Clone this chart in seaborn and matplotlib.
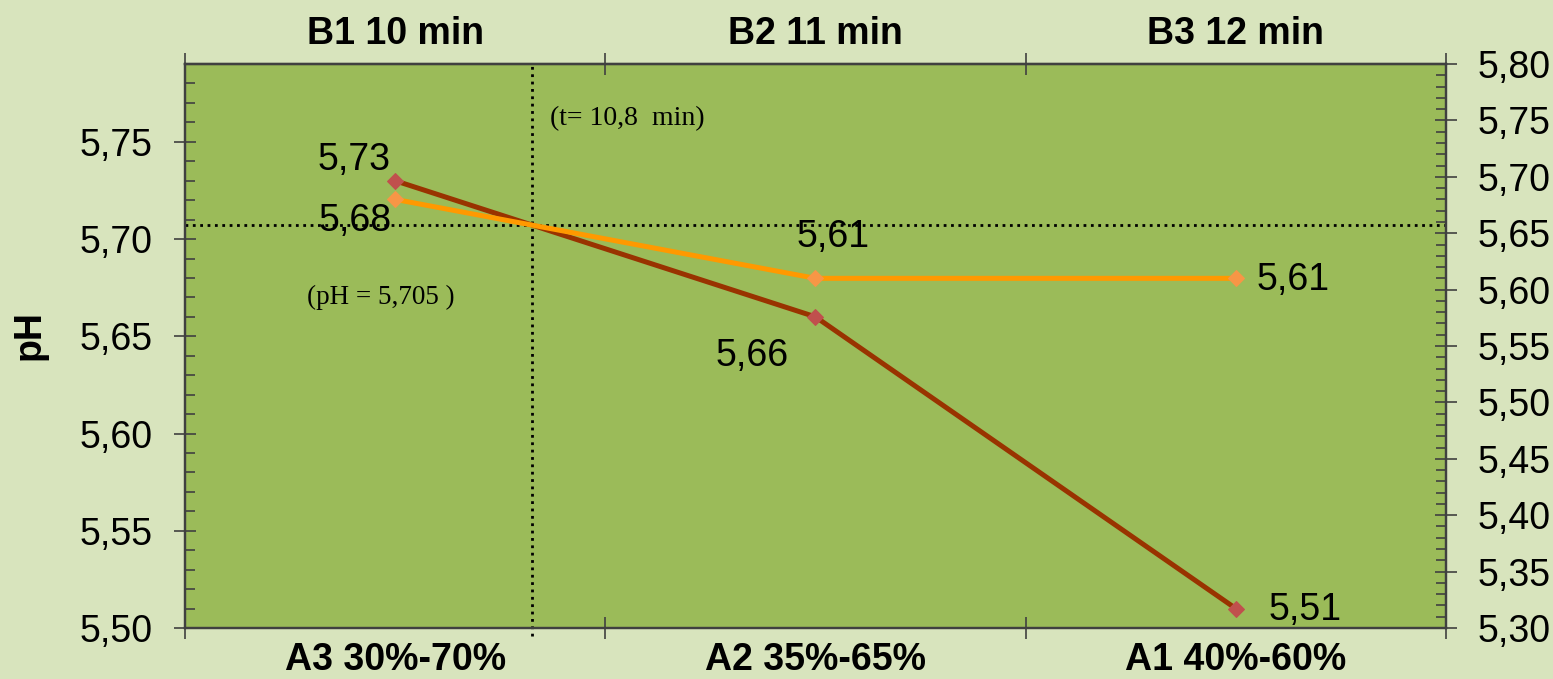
import matplotlib
matplotlib.use("Agg")
import matplotlib.pyplot as plt
import matplotlib.ticker as mticker
import pandas as pd
import seaborn as sns

# categories and values
mix_labels = ["A3 30%-70%", "A2 35%-65%", "A1 40%-60%"]
time_labels = ["B1 10 min", "B2 11 min", "B3 12 min"]
ph_mix = [5.73, 5.66, 5.51]     # left axis
ph_time = [5.68, 5.61, 5.61]    # right axis

# crossing point of the two lines (t = 10,8 min, pH = 5,705)
t_cross = 0.326
ph_cross = 5.707

left_ticks = [5.50, 5.55, 5.60, 5.65, 5.70, 5.75]
right_ticks = [5.30, 5.35, 5.40, 5.45, 5.50, 5.55, 5.60, 5.65, 5.70, 5.75, 5.80]

df = pd.DataFrame({
    "mix": mix_labels,
    "time": time_labels,
    "ph_mix": ph_mix,
    "ph_time": ph_time,
})

plt.rcParams["font.family"] = ["Liberation Sans", "DejaVu Sans"]

BG = "#d8e4bd"
PLOT_BG = "#9bbb59"
SPINE = "#404040"

fig, ax = plt.subplots(figsize=(15.53, 6.79), dpi=100)
fig.patch.set_facecolor(BG)
ax.set_facecolor(PLOT_BG)
fig.subplots_adjust(left=0.1191, right=0.9311, bottom=0.0751, top=0.9057)

ax2 = ax.twinx()

sns.lineplot(data=df, x="mix", y="ph_mix", ax=ax, sort=False,
             color="#993300", lw=3.6, marker="D", markersize=8,
             markerfacecolor="#c0504d", markeredgecolor="#c0504d")
sns.lineplot(data=df, x="mix", y="ph_time", ax=ax2, sort=False,
             color="#ff9900", lw=3.6, marker="D", markersize=8,
             markerfacecolor="#f79646", markeredgecolor="#f79646")

ax.set_xlim(-0.5, 2.5)
ax.set_ylim(5.50, 5.79)
ax2.set_ylim(5.30, 5.80)

comma = mticker.FuncFormatter(lambda v, p: f"{v:.2f}".replace(".", ","))

# bottom categories
ax.set_xticks(range(len(mix_labels)))
ax.set_xticklabels(mix_labels, fontsize=27, fontweight="bold")
ax.set_xticks([-0.5, 0.5, 1.5, 2.5], minor=True)
ax.tick_params(axis="x", which="major", length=0, pad=10)
ax.tick_params(axis="x", which="minor", direction="inout", length=16,
               width=1.2, color=SPINE)

# left y axis
ax.set_yticks(left_ticks)
ax.yaxis.set_major_formatter(comma)
ax.yaxis.set_minor_locator(mticker.MultipleLocator(0.01))
ax.tick_params(axis="y", which="major", direction="inout", length=16,
               width=1.2, color=SPINE, labelsize=27, pad=15)
ax.tick_params(axis="y", which="minor", direction="in", length=7,
               width=1.2, color=SPINE)
ax.set_xlabel("")
ax.set_ylabel("pH", fontsize=27, fontweight="bold")
ax.yaxis.set_label_coords(-0.109, 0.52)

# right y axis
ax2.set_yticks(right_ticks)
ax2.yaxis.set_major_formatter(comma)
ax2.yaxis.set_minor_locator(mticker.MultipleLocator(0.01))
ax2.tick_params(axis="y", which="major", direction="inout", length=16,
                width=1.2, color=SPINE, labelsize=27, pad=15)
ax2.tick_params(axis="y", which="minor", direction="in", length=7,
                width=1.2, color=SPINE)
ax2.set_ylabel("")

# top categories
top = ax.secondary_xaxis("top")
top.set_xticks(range(len(time_labels)))
top.set_xticklabels(time_labels, fontsize=27, fontweight="bold")
top.set_xticks([-0.5, 0.5, 1.5, 2.5], minor=True)
top.tick_params(axis="x", which="major", length=0, pad=9)
top.tick_params(axis="x", which="minor", direction="inout", length=16,
                width=1.2, color=SPINE)

for a in (ax, ax2, top):
    for sp in a.spines.values():
        sp.set_color(SPINE)
        sp.set_linewidth(1.6)

# dotted reference lines at the crossing
ax.axhline(ph_cross, color="black", ls=":", lw=2, zorder=1)
ax.axvline(t_cross, ymin=-0.015, ymax=1, color="black", ls=":", lw=2,
           clip_on=False, zorder=1)

ax.text(0.2894, 0.904, "(t= 10,8  min)", transform=ax.transAxes,
        family="Liberation Serif", fontsize=20, va="center", ha="left")
ax.text(0.0967, 0.587, "(pH = 5,705 )", transform=ax.transAxes,
        family="Liberation Serif", fontsize=19.5, va="center", ha="left")

# data labels
mix_offsets = [(-41, 21), (-63, -39), (69, -1)]
time_offsets = [(-40, -22), (18, 41), (57, -2)]
for i, v in enumerate(ph_mix):
    ax.annotate(f"{v:.2f}".replace(".", ","), xy=(i, v),
                xytext=mix_offsets[i], textcoords="offset pixels",
                ha="center", va="center", fontsize=27)
for i, v in enumerate(ph_time):
    ax2.annotate(f"{v:.2f}".replace(".", ","), xy=(i, v),
                 xytext=time_offsets[i], textcoords="offset pixels",
                 ha="center", va="center", fontsize=27)

fig.savefig("out.png", dpi=100, facecolor=BG)
